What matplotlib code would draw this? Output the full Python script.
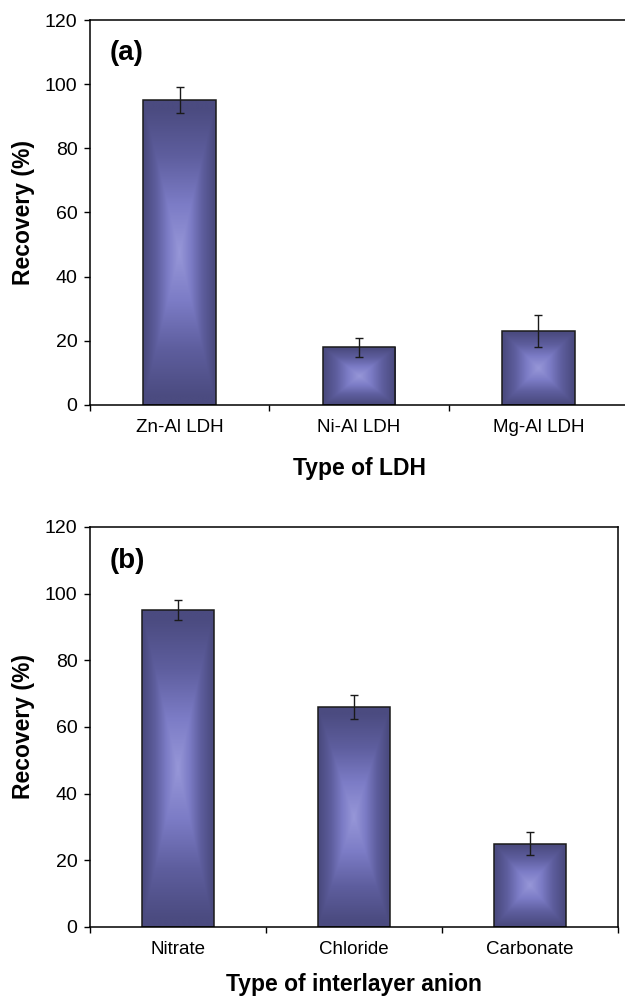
import numpy as np
import matplotlib
matplotlib.use("Agg")
import matplotlib.pyplot as plt
from matplotlib.colors import LinearSegmentedColormap

plt.rcParams['font.family'] = ['Liberation Sans', 'DejaVu Sans']

# data
ldh_types = ["Zn-Al LDH", "Ni-Al LDH", "Mg-Al LDH"]
ldh_recovery = [95, 18, 23]
ldh_err = [4, 3, 5]

anions = ["Nitrate", "Chloride", "Carbonate"]
anion_recovery = [95, 66, 25]
anion_err = [3, 3.5, 3.5]

# center-to-edge gradient like the old Excel fill
cmap = LinearSegmentedColormap.from_list("ctr", ["#9797d8", "#7c7cc6", "#5e5e9e", "#4b4b80"])


def gradient_bars(ax, bars):
    n = 300
    u = np.linspace(-1, 1, n)
    U, V = np.meshgrid(u, u)
    D = np.maximum(np.abs(U), np.abs(V))
    D = np.clip(D / 0.95, 0, 1)
    for b in bars:
        x, y = b.get_x(), b.get_y()
        w, h = b.get_width(), b.get_height()
        im = ax.imshow(D, cmap=cmap, vmin=0, vmax=1, extent=(x, x + w, y, y + h),
                       origin="lower", aspect="auto", interpolation="bilinear", zorder=1)
        im.set_clip_path(b)
        b.set_facecolor("none")


def panel(ax, cats, vals, errs, letter, xlabel, right_spine, xpad):
    pos = np.arange(len(cats))
    bars = ax.bar(pos, vals, width=0.405, edgecolor="#1a1a1a", linewidth=1.1, zorder=2)
    gradient_bars(ax, bars)
    ax.errorbar(pos, vals, yerr=errs, fmt="none", ecolor="#1a1a1a", elinewidth=1.0,
                capsize=3, capthick=1.0, zorder=3)
    ax.set_xlim(-0.5, len(cats) - 0.5)
    ax.set_ylim(0, 120)
    ax.set_yticks(range(0, 121, 20))
    ax.set_xticks(np.arange(-0.5, len(cats), 1.0))
    ax.set_xticklabels([])
    ax.set_xticks(pos, minor=True)
    ax.set_xticklabels(cats, minor=True)
    ax.tick_params(axis="x", which="minor", length=0, pad=10, labelsize=13.5)
    ax.tick_params(axis="x", which="major", direction="out", length=4, width=1)
    ax.tick_params(axis="y", direction="out", length=4, width=1, pad=5, labelsize=14)
    for s in ["left", "top", "bottom"]:
        ax.spines[s].set_linewidth(1.1)
    ax.spines["right"].set_visible(right_spine)
    ax.spines["right"].set_linewidth(1.1)
    ax.set_ylabel("Recovery (%)", fontsize=16.5, fontweight="bold", labelpad=7)
    ax.set_xlabel(xlabel, fontsize=16.5, fontweight="bold", labelpad=xpad)
    ax.text(0.037, 0.948, letter, transform=ax.transAxes, fontsize=20,
            fontweight="bold", va="top", ha="left")


fig = plt.figure(figsize=(6.25, 9.96), dpi=100)
ax1 = fig.add_axes([0.144, 0.5934, 0.861, 0.3865])
ax2 = fig.add_axes([0.144, 0.0693, 0.8448, 0.4016])

panel(ax1, ldh_types, ldh_recovery, ldh_err, "(a)", "Type of LDH", False, 15)
panel(ax2, anions, anion_recovery, anion_err, "(b)", "Type of interlayer anion", True, 11)

fig.savefig("out.png", dpi=100)
